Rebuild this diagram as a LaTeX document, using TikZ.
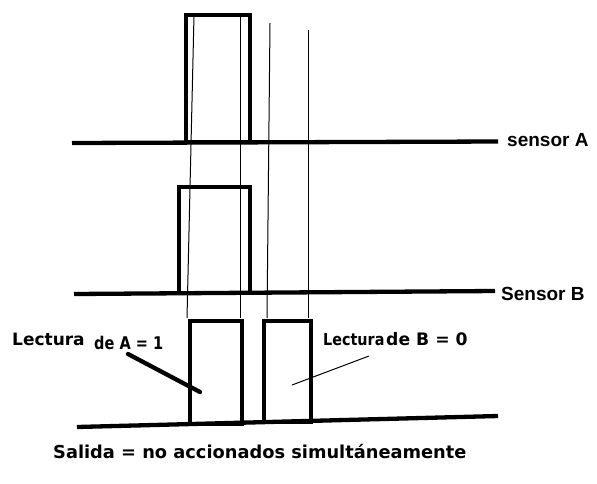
\documentclass[tikz,border=0pt]{standalone}
\usepackage{graphicx}
\usepackage{fontspec}
\setmainfont{DejaVu Sans}
\newfontfamily\arialfont{Liberation Sans}
\usetikzlibrary{positioning}
\newcommand{\squeeze}[2]{\scalebox{#1}[1]{#2}}

\begin{document}
\begin{tikzpicture}[x=1pt,y=-1pt,
    signal/.style={line width=4.3pt},
    guide/.style={line width=1pt},
    lbl/.style={inner sep=0pt, anchor=base west, font=\bfseries}]
    \useasboundingbox (0,0) rectangle (597,483);

    % Sensor A
    \draw[signal] (72,143) -- (498,141.5);
    \draw[signal] (186,142) rectangle (250,15);
    \node[lbl, font=\arialfont\bfseries\fontsize{19}{22}\selectfont] (senA) at (507,146) {sensor A};

    % Sensor B
    \draw[signal] (74,294) -- (495,291);
    \draw[signal] (179,293) rectangle (250,187);
    \node[lbl, font=\arialfont\bfseries\fontsize{19}{22}\selectfont] (senB) at (501,300) {Sensor B};

    % Salida
    \draw[signal] (77,427) -- (498,416);
    \draw[signal] (190,424) rectangle (242,321);
    \draw[signal] (264,422) rectangle (311,321);

    % Guide lines
    \foreach \xa/\ya/\xb in {194/15/187, 240/15/240, 270/23/267, 308/30/308}
        \draw[guide] (\xa,\ya) -- (\xb,318);

    % Labels
    \node[lbl, font=\bfseries\fontsize{17}{20}\selectfont] (lecA) at (12,345) {Lectura};
    \node[lbl, font=\bfseries\fontsize{17.5}{20}\selectfont] (deA) at (94,349) {\squeeze{0.83}{de A = 1}};
    \node[lbl, font=\bfseries\fontsize{16.5}{19}\selectfont] (lecB) at (323,345) {\squeeze{0.87}{Lectura}};
    \node[lbl, font=\bfseries\fontsize{17.2}{20}\selectfont] (deB) at (386,345) {de B = 0};
    \node[lbl, font=\bfseries\fontsize{17.8}{21}\selectfont] (salida) at (53,458) {Salida = no accionados simult\'aneamente};

    % Pointers
    \coordinate (ptA) at (200,392);
    \coordinate (ptB) at (292,385);
    \draw[signal, line cap=round] (128,354) -- (ptA);
    \draw[guide] (369,356) -- (ptB);
\end{tikzpicture}
\end{document}
